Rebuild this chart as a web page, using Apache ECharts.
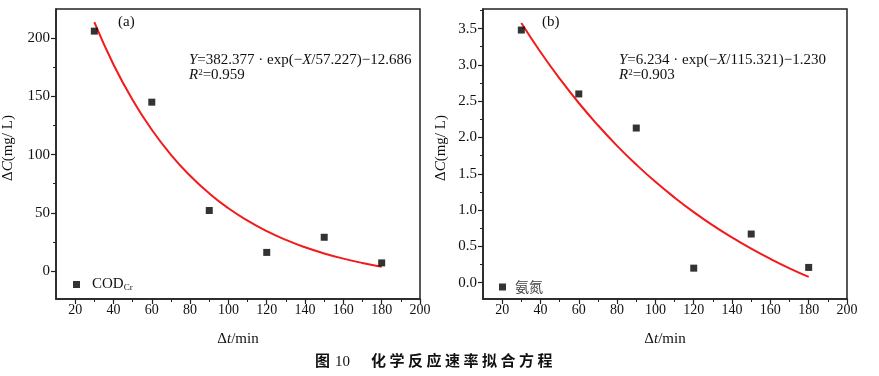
<!DOCTYPE html>
<html>
<head>
<meta charset="utf-8">
<script src="https://cdn.jsdelivr.net/npm/echarts@6/dist/echarts.min.js"></script>
<style>
  html, body { margin: 0; padding: 0; background: #fff; }
  #wrap { position: relative; width: 879px; height: 376px; }
  #chart { width: 879px; height: 376px; }
  .caption {
    position: absolute;
    left: 315px; top: 350px;
    white-space: nowrap;
    font-family: "Noto Sans CJK SC", sans-serif;
    font-size: 15px;
    line-height: 20px;
    font-weight: bold;
    color: #111;
  }
  .caption .num { font-family: "Liberation Serif", serif; font-weight: normal; margin-left: 5px; margin-right: 21px; }
  .caption .cn { letter-spacing: 3.5px; }
</style>
</head>
<body>
<div id="wrap">
  <div id="chart"></div>
  <div class="caption"><span>图</span><span class="num">10</span><span class="cn">化学反应速率拟合方程</span></div>
</div>
<script>
// 实测点
const timeX = [30, 60, 90, 120, 150, 180];
const codValues = [206, 145, 52, 16, 29, 7];
const nh3Values = [3.48, 2.60, 2.13, 0.20, 0.67, 0.21];

// 拟合曲线（按图中方程读取的点）
const fitX = [30, 40, 50, 60, 70, 80, 90, 100, 110, 120, 130, 140, 150, 160, 170, 180];
const codFit = [213.69, 177.39, 146.91, 121.32, 99.84, 81.80, 66.65, 53.92, 43.25, 34.28, 26.75, 20.42, 15.12, 10.66, 6.91, 3.77];
const nh3Fit = [3.576, 3.177, 2.811, 2.475, 2.168, 1.885, 1.627, 1.389, 1.172, 0.972, 0.789, 0.622, 0.468, 0.327, 0.197, 0.079];

// 刻度
const xMajor = [20, 40, 60, 80, 100, 120, 140, 160, 180, 200];
const xMinor = [30, 50, 70, 90, 110, 130, 150, 170, 190];
const codMajor = [0, 50, 100, 150, 200];
const codMinor = [25, 75, 125, 175];
const nh3Major = [0, 0.5, 1.0, 1.5, 2.0, 2.5, 3.0, 3.5];
const nh3Minor = [0.25, 0.75, 1.25, 1.75, 2.25, 2.75, 3.25, 3.75];

const serif = 'Liberation Serif';
const axisColor = '#222';

const zip = (xs, ys) => xs.map((x, i) => [x, ys[i]]);

const majorX = (grid) => ({
  gridIndex: grid,
  type: 'value',
  position: 'bottom',
  min: 10,
  max: 200,
  name: '{d|Δ}{i|t}/min',
  nameLocation: 'middle',
  nameGap: 33,
  nameTextStyle: {
    fontFamily: serif, fontSize: 15, color: '#111',
    rich: {
      d: { fontFamily: serif, fontSize: 15 },
      i: { fontFamily: serif, fontSize: 15, fontStyle: 'italic' }
    }
  },
  axisLine: { show: true, onZero: false, lineStyle: { color: axisColor, width: 1.5 } },
  axisTick: { show: true, customValues: xMajor, length: 5, lineStyle: { color: axisColor, width: 1.2 } },
  axisLabel: { customValues: xMajor, fontFamily: serif, fontSize: 14, color: '#111', margin: 4 },
  splitLine: { show: false }
});

const minorX = (grid) => ({
  gridIndex: grid,
  type: 'value',
  position: 'bottom',
  min: 10,
  max: 200,
  axisLine: { show: false, onZero: false },
  axisTick: { show: true, customValues: xMinor, length: 3, lineStyle: { color: axisColor, width: 1 } },
  axisLabel: { show: false },
  splitLine: { show: false }
});

const majorY = (grid, min, max, ticks, gap) => ({
  gridIndex: grid,
  type: 'value',
  position: 'left',
  min: min,
  max: max,
  name: '{d|Δ}{i|C}(mg/ L)',
  nameLocation: 'middle',
  nameGap: gap,
  nameTextStyle: {
    fontFamily: serif, fontSize: 15, color: '#111', padding: [0, 0, 0, 12],
    rich: {
      d: { fontFamily: serif, fontSize: 15 },
      i: { fontFamily: serif, fontSize: 15, fontStyle: 'italic' }
    }
  },
  axisLine: { show: true, onZero: false, lineStyle: { color: axisColor, width: 1.5 } },
  axisTick: { show: true, customValues: ticks, length: 5, lineStyle: { color: axisColor, width: 1.2 } },
  axisLabel: {
    customValues: ticks, fontFamily: serif, fontSize: 15, color: '#111', margin: 6,
    formatter: (v) => grid === 1 ? v.toFixed(1) : String(v)
  },
  splitLine: { show: false }
});

const minorY = (grid, min, max, ticks) => ({
  gridIndex: grid,
  type: 'value',
  position: 'left',
  min: min,
  max: max,
  axisLine: { show: false, onZero: false },
  axisTick: { show: true, customValues: ticks, length: 3, lineStyle: { color: axisColor, width: 1 } },
  axisLabel: { show: false },
  splitLine: { show: false }
});

const chart = echarts.init(document.getElementById('chart'));

const eqStyle = {
  fontFamily: serif, fontSize: 15, fill: '#111',
  rich: {
    i: { fontFamily: serif, fontSize: 15, fontStyle: 'italic' },
    sup: { fontFamily: serif, fontSize: 9, verticalAlign: 'top', padding: [0, 0, 6, 0] }
  }
};

const option = {
  animation: false,
  grid: [
    { left: 56, top: 9, width: 364, height: 290, show: true, borderColor: axisColor, borderWidth: 1.5, backgroundColor: 'transparent' },
    { left: 483, top: 9, width: 364, height: 290, show: true, borderColor: axisColor, borderWidth: 1.5, backgroundColor: 'transparent' }
  ],
  xAxis: [majorX(0), minorX(0), majorX(1), minorX(1)],
  yAxis: [
    majorY(0, -24, 225, codMajor, 40),
    minorY(0, -24, 225, codMinor),
    majorY(1, -0.225, 3.77, nh3Major, 34),
    minorY(1, -0.225, 3.77, nh3Minor)
  ],
  legend: [
    {
      data: ['COD'],
      left: 68, top: 272,
      icon: 'rect', itemWidth: 7, itemHeight: 7,
      formatter: () => '{m|COD}{s|Cr}',
      textStyle: {
        fontFamily: serif, fontSize: 15, color: '#111', padding: [0, 0, 0, 7],
        rich: {
          m: { fontFamily: serif, fontSize: 15, fontStyle: 'normal', color: '#111' },
          s: { fontFamily: serif, fontSize: 9, fontStyle: 'normal', color: '#111', verticalAlign: 'bottom', padding: [6, 0, 0, 0] }
        }
      }
    },
    {
      data: ['氨氮'],
      left: 494, top: 275,
      icon: 'rect', itemWidth: 7, itemHeight: 7,
      textStyle: { fontFamily: 'Noto Sans CJK SC', fontSize: 14, color: '#444', padding: [0, 0, 0, 4] }
    }
  ],
  graphic: [
    { type: 'text', left: 118, top: 15, style: { text: '(a)', fontFamily: serif, fontSize: 15, fill: '#111' } },
    { type: 'text', left: 189, top: 53, style: Object.assign({ text: '{i|Y}=382.377 · exp(−{i|X}/57.227)−12.686' }, eqStyle) },
    { type: 'text', left: 189, top: 68, style: Object.assign({ text: '{i|R}{sup|2}=0.959' }, eqStyle) },
    { type: 'text', left: 542, top: 15, style: { text: '(b)', fontFamily: serif, fontSize: 15, fill: '#111' } },
    { type: 'text', left: 619, top: 53, style: Object.assign({ text: '{i|Y}=6.234 · exp(−{i|X}/115.321)−1.230' }, eqStyle) },
    { type: 'text', left: 619, top: 68, style: Object.assign({ text: '{i|R}{sup|2}=0.903' }, eqStyle) }
  ],
  series: [
    {
      name: 'COD fit', type: 'line', xAxisIndex: 0, yAxisIndex: 0,
      data: zip(fitX, codFit), smooth: true, showSymbol: false,
      lineStyle: { color: '#f21a1a', width: 2 }, z: 2
    },
    {
      name: 'COD', type: 'scatter', xAxisIndex: 0, yAxisIndex: 0,
      data: zip(timeX, codValues), symbol: 'rect', symbolSize: 7,
      itemStyle: { color: '#000' }, z: 3
    },
    {
      name: '氨氮 fit', type: 'line', xAxisIndex: 2, yAxisIndex: 2,
      data: zip(fitX, nh3Fit), smooth: true, showSymbol: false,
      lineStyle: { color: '#f21a1a', width: 2 }, z: 2
    },
    {
      name: '氨氮', type: 'scatter', xAxisIndex: 2, yAxisIndex: 2,
      data: zip(timeX, nh3Values), symbol: 'rect', symbolSize: 7,
      itemStyle: { color: '#000' }, z: 3
    }
  ]
};

chart.setOption(option);
</script>
</body>
</html>
